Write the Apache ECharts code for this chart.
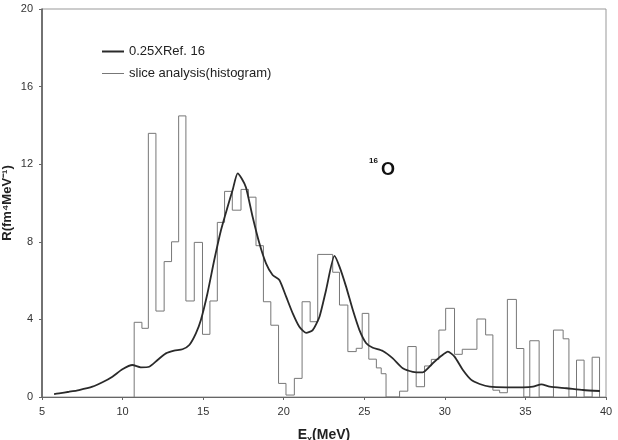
<!DOCTYPE html>
<html>
<head>
<meta charset="utf-8">
<script src="https://cdn.jsdelivr.net/npm/echarts@6/dist/echarts.min.js"></script>
<style>
  html, body { margin: 0; padding: 0; background: #fff; }
  #chart { width: 618px; height: 440px; }
</style>
</head>
<body>
<div id="chart"></div>
<script>
// 0.25 x Ref. 16 curve, [E (MeV), R]
const curveE = [5.75, 6.06, 6.68, 7.3, 8.13, 8.75, 9.37, 9.99, 10.61, 11.13, 11.65, 12.17, 12.69, 13.2,
  13.72, 14.14, 14.55, 14.86, 15.27, 15.69, 16.11, 16.52, 16.83, 17.14, 17.4, 17.66, 18.07, 18.49,
  18.9, 19.31, 19.73, 20.15, 20.56, 20.97, 21.39, 21.8, 22.22, 22.63, 23.15, 23.46, 23.87, 24.29,
  24.7, 25.12, 25.53, 26.15, 26.77, 27.39, 28.01, 28.63, 29.25, 29.77, 30.19, 30.6, 31.12, 31.64,
  32.16, 32.78, 33.82, 34.85, 35.47, 35.99, 36.51, 37.55, 38.58, 39.62];
const curveR = [0.15, 0.19, 0.27, 0.36, 0.53, 0.76, 1.05, 1.43, 1.65, 1.53, 1.56, 1.91, 2.25, 2.39,
  2.46, 2.68, 3.28, 3.97, 5.35, 7.06, 8.61, 9.81, 10.67, 11.53, 11.25, 10.8, 9.29, 7.92,
  6.89, 6.29, 6.03, 5.17, 4.31, 3.62, 3.31, 3.45, 4.14, 5.52, 7.27, 6.72, 5.69, 4.48,
  3.45, 2.77, 2.54, 2.37, 1.99, 1.48, 1.3, 1.27, 1.74, 2.11, 2.34, 2.08, 1.39, 0.88,
  0.67, 0.53, 0.5, 0.5, 0.53, 0.65, 0.53, 0.45, 0.36, 0.31];

// slice analysis histogram: left bin edges and heights, histEnd closes the final bin
const histEdges = [10.72, 11.2, 11.6, 12.07, 12.58, 13.04, 13.48, 13.93, 14.45, 14.96, 15.42, 15.88,
  16.33, 16.81, 17.35, 17.81, 18.28, 18.74, 19.2, 19.68, 20.14, 20.66, 21.14, 21.64, 22.11, 23.04,
  23.46, 23.98, 24.5, 24.87, 25.28, 25.75, 26.05, 26.35, 27.19, 27.7, 28.22, 28.74, 29.16, 29.63,
  30.05, 30.6, 31.08, 31.99, 32.53, 32.98, 33.4, 33.88, 34.44, 34.9, 35.27, 35.85, 36.74, 37.34,
  37.7, 38.17, 38.64, 39.14];
const histValues = [3.85, 3.54, 13.59, 4.43, 6.98, 8.0, 14.49, 4.95, 7.97, 3.23, 4.95, 9.0,
  10.6, 9.63, 10.7, 10.3, 7.8, 4.91, 3.7, 0.7, 0.1, 0.96, 4.91, 3.88, 7.35, 6.43,
  4.74, 2.34, 2.51, 4.31, 1.95, 1.5, 1.2, 0, 0.3, 2.6, 0.53, 1.6, 1.94, 3.45,
  4.57, 2.2, 2.46, 4.02, 3.2, 0.35, 0.22, 5.03, 2.5, 0, 2.9, 0, 3.45, 3.0,
  0, 1.9, 0, 2.05];
const histEnd = 39.6;

const xTicks = { min: 5, max: 40, step: 5 };
const yTicks = { min: 0, max: 20, step: 4 };

const curveData = curveE.map((e, i) => [e, curveR[i]]);
const histData = [[histEdges[0], 0]];
histEdges.forEach((e, i) => histData.push([e, histValues[i]]));
histData.push([histEnd, 0]);

const chart = echarts.init(document.getElementById('chart'));
const font = 'Liberation Sans, Arial, sans-serif';

chart.setOption({
  animation: false,
  backgroundColor: '#fff',
  textStyle: { fontFamily: font },
  grid: {
    left: 42, right: 12, top: 9, bottom: 43,
    outerBoundsMode: 'none',
    show: true, borderColor: '#999', borderWidth: 1
  },
  legend: {
    orient: 'vertical',
    left: 97, top: 40,
    itemWidth: 22, itemHeight: 14, itemGap: 9,
    symbolKeepAspect: true,
    textStyle: { fontSize: 13, color: '#222', fontFamily: font },
    data: [
      { name: '0.25XRef. 16', icon: 'path://M0,0H22V2H0Z' },
      { name: 'slice analysis(histogram)', icon: 'path://M0,0H22V1H0Z' }
    ]
  },
  xAxis: {
    type: 'value',
    min: xTicks.min, max: xTicks.max, interval: xTicks.step,
    name: '{b|E}{s|x}{b|(MeV)}',
    nameLocation: 'middle', nameGap: 30,
    nameMoveOverlap: false,
    nameTextStyle: {
      rich: {
        b: { fontSize: 14, fontWeight: 'bold', color: '#222', fontFamily: font },
        s: { fontSize: 9, fontWeight: 'bold', color: '#222', fontFamily: font, padding: [8, 0, 0, 0] }
      }
    },
    axisLine: { lineStyle: { color: '#666', width: 1 } },
    axisTick: { show: true, length: 3, lineStyle: { color: '#666' } },
    axisLabel: { fontSize: 11, color: '#333', margin: 9 },
    splitLine: { show: false }
  },
  yAxis: {
    type: 'value',
    min: yTicks.min, max: yTicks.max, interval: yTicks.step,
    name: 'R(fm⁴MeV⁻¹)',
    nameLocation: 'middle', nameGap: 28,
    nameMoveOverlap: false,
    nameTextStyle: { fontSize: 13, fontWeight: 'bold', color: '#222', fontFamily: font },
    axisLine: { show: true, lineStyle: { color: '#555', width: 1.5 } },
    axisTick: { show: true, length: 3, lineStyle: { color: '#666' } },
    axisLabel: { fontSize: 11, color: '#333', margin: 9 },
    splitLine: { show: false }
  },
  graphic: [
    { type: 'text', left: 369, top: 157, style: { text: '16', font: 'bold 8px ' + font, fill: '#111' } },
    { type: 'text', left: 381, top: 161, style: { text: 'O', font: 'bold 18px ' + font, fill: '#111' } }
  ],
  series: [
    {
      name: 'slice analysis(histogram)',
      type: 'line',
      step: 'end',
      symbol: 'none',
      data: histData,
      lineStyle: { color: '#777', width: 1 },
      itemStyle: { color: '#777' },
      z: 2
    },
    {
      name: '0.25XRef. 16',
      type: 'line',
      symbol: 'none',
      smooth: 0.2,
      data: curveData,
      lineStyle: { color: '#2a2a2a', width: 1.8 },
      itemStyle: { color: '#2a2a2a' },
      z: 3
    }
  ]
});
</script>
</body>
</html>
